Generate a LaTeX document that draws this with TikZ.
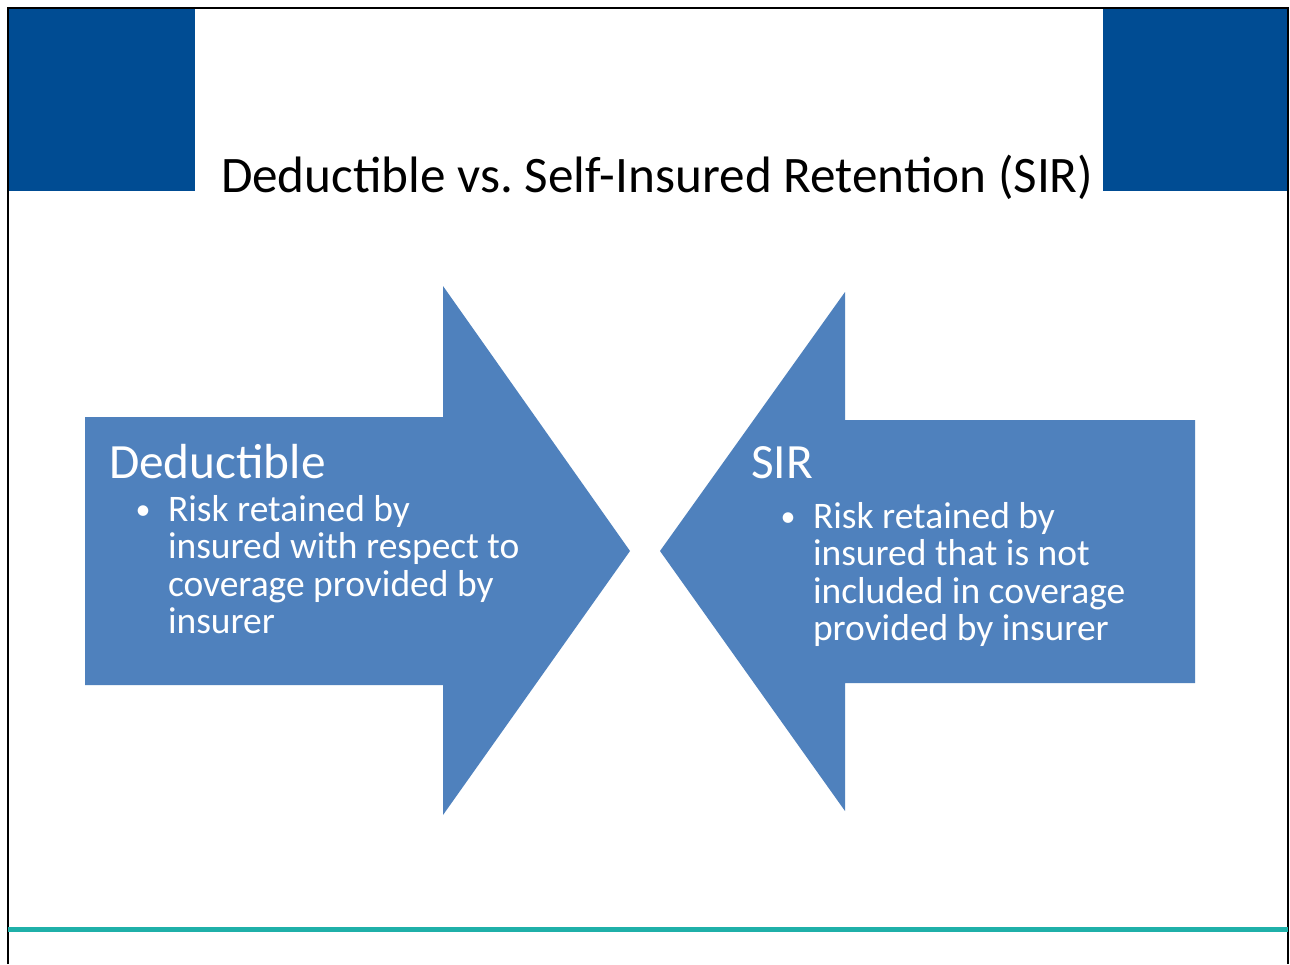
\documentclass[tikz,border=0pt]{standalone}
\usepackage{fontspec}
\setmainfont{Carlito}
\frenchspacing
\definecolor{hdrblue}{RGB}{0,76,147}
\definecolor{arrowblue}{RGB}{79,129,189}
\definecolor{tealline}{RGB}{31,176,169}
\begin{document}
\begin{tikzpicture}[x=1pt,y=-1pt,
  txt/.style={anchor=base west,inner sep=0pt,outer sep=0pt},
  head/.style={txt,text=white,font=\fontsize{49.3}{51}\selectfont},
  body/.style={txt,text=white,font=\fontsize{37.5}{39}\selectfont},
  bul/.style={anchor=base,inner sep=0pt,outer sep=0pt,text=white,font=\fontsize{30}{32}\selectfont},
  arrowshape/.style={fill=arrowblue,draw=none}]
\useasboundingbox (0,0) rectangle (1290,964);
\fill[white] (0,0) rectangle (1290,964);
% header blocks
\fill[hdrblue] (8,8) rectangle (195,191);
\fill[hdrblue] (1103,8) rectangle (1288,191);
% frame
\draw[black,line width=1.3pt] (8,964) -- (8,8) -- (1288,8) -- (1288,964);
% bottom line
\draw[tealline,line width=5pt] (8,929) -- (1288,929);
% title
\node[txt,font=\fontsize{51.2}{53}\selectfont] (title) at (221,192) {Deductible vs. Self-Insured Retention (SIR)};
% arrows
\path[arrowshape] (85,417) -- (443,417) -- (443,286) -- (630,551) -- (443,815) -- (443,685) -- (85,685) -- cycle;
\path[arrowshape] (1195,420) -- (845,420) -- (845,292) -- (660,551) -- (845,811) -- (845,683) -- (1195,683) -- cycle;
% left text
\node[head] (lhead) at (109,478) {Deductible};
\node[bul] (lbul) at (143,519) {•};
\node[body] (l1) at (168,521) {Risk retained by};
\node[body] (l2) at (168,558) {insured with respect to};
\node[body] (l3) at (168,596) {coverage provided by};
\node[body] (l4) at (168,633) {insurer};
% right text
\node[head] (rhead) at (751,478) {SIR};
\node[bul] (rbul) at (788,526) {•};
\node[body] (r1) at (813,528) {Risk retained by};
\node[body] (r2) at (813,565) {insured that is not};
\node[body] (r3) at (813,603) {included in coverage};
\node[body] (r4) at (813,640) {provided by insurer};
\end{tikzpicture}
\end{document}
